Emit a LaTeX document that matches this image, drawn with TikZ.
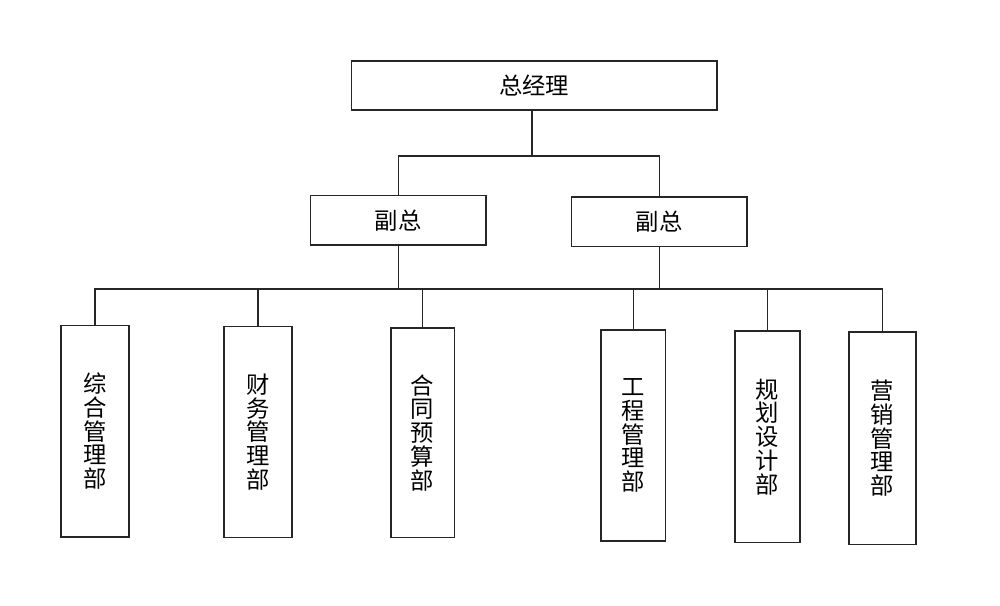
\documentclass[tikz,border=0pt]{standalone}
\usepackage{fontspec}
\newfontfamily\cjk{Noto Sans CJK SC}
\begin{document}
\begin{tikzpicture}[x=0.75pt,y=-0.75pt,
  box/.style={draw=black!85,line width=1.2pt,rectangle,inner sep=0pt,
    font=\cjk\fontsize{17.5}{17.8}\selectfont,align=center},
  link/.style={draw=black!85,line width=1.2pt}]
\useasboundingbox (0,0) rectangle (1000,606);
\fill[white] (0,0) rectangle (1000,606);
\node[box,minimum width=273.8pt,minimum height=36.8pt] (top) at (534.2,85.3) {总经理};
\node[box,minimum width=131.5pt,minimum height=37pt] (vp1) at (398.3,220.3) {副总};
\node[box,minimum width=131.5pt,minimum height=37.3pt] (vp2) at (659.3,221.8) {副总};
\node[box,minimum width=51pt,minimum height=158.3pt] (d1) at (95,431.2) {综\\合\\管\\理\\部};
\node[box,minimum width=51pt,minimum height=158pt] (d2) at (257.7,432) {财\\务\\管\\理\\部};
\node[box,minimum width=47.7pt,minimum height=157.3pt] (d3) at (422.5,432.8) {合\\同\\预\\算\\部};
\node[box,minimum width=48.5pt,minimum height=158.3pt] (d4) at (633.3,435.5) {工\\程\\管\\理\\部};
\node[box,minimum width=48.8pt,minimum height=158.8pt] (d5) at (767.5,436.8) {规\\划\\设\\计\\部};
\node[box,minimum width=50.3pt,minimum height=159.2pt] (d6) at (882.5,438.2) {营\\销\\管\\理\\部};
\coordinate (j1) at (532,156);
\coordinate (j2) at (0,289);
\draw[link] (top.south -| j1) -- (j1);
\draw[link] (vp1.north) |- (j1) -| (vp2.north);
\draw[link] (d1.north) |- (d6.north |- j2) -- (d6.north);
\draw[link] (vp1.south) -- (vp1.south |- j2);
\draw[link] (vp2.south) -- (vp2.south |- j2);
\draw[link] (d2.north) -- (d2.north |- j2);
\draw[link] (d3.north) -- (d3.north |- j2);
\draw[link] (d4.north) -- (d4.north |- j2);
\draw[link] (d5.north) -- (d5.north |- j2);
\end{tikzpicture}
\end{document}
